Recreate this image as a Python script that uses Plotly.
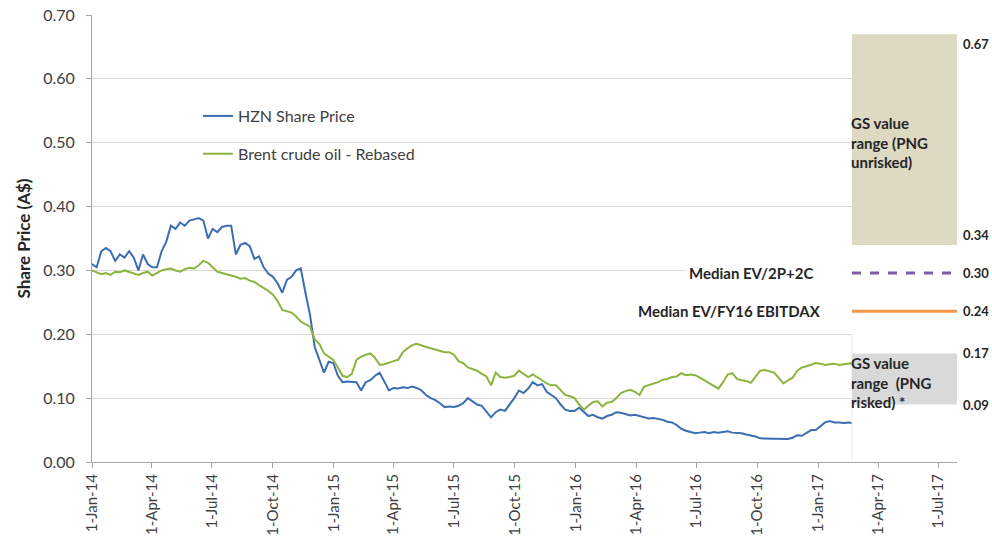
import pandas as pd
import plotly.graph_objects as go

# ---------------- data ----------------
dates = pd.date_range("2014-01-01", periods=165, freq="7D")

hzn_price = [
    0.310, 0.305, 0.330, 0.335, 0.330, 0.315, 0.325, 0.320, 0.330, 0.320,
    0.300, 0.325, 0.310, 0.305, 0.305, 0.330, 0.345, 0.370, 0.365, 0.375,
    0.370, 0.378, 0.380, 0.382, 0.378, 0.350, 0.365, 0.360, 0.368, 0.370,
    0.370, 0.325, 0.340, 0.343, 0.338, 0.318, 0.322, 0.305, 0.295, 0.290,
    0.280, 0.265, 0.285, 0.290, 0.300, 0.303, 0.265, 0.230, 0.180, 0.160,
    0.140, 0.157, 0.155, 0.135, 0.125, 0.126, 0.125, 0.125, 0.112, 0.125,
    0.128, 0.135, 0.140, 0.125, 0.112, 0.116, 0.115, 0.117, 0.116, 0.118,
    0.116, 0.112, 0.105, 0.100, 0.097, 0.092, 0.086, 0.087, 0.086, 0.088,
    0.092, 0.100, 0.095, 0.090, 0.088, 0.078, 0.070, 0.078, 0.082, 0.080,
    0.090, 0.100, 0.112, 0.108, 0.115, 0.125, 0.120, 0.122, 0.110, 0.105,
    0.100, 0.090, 0.082, 0.080, 0.080, 0.085, 0.078, 0.072, 0.074, 0.070,
    0.068, 0.072, 0.074, 0.078, 0.077, 0.075, 0.073, 0.074, 0.072, 0.069,
    0.068, 0.069, 0.068, 0.066, 0.063, 0.062, 0.058, 0.052, 0.049, 0.047,
    0.045, 0.046, 0.047, 0.045, 0.047, 0.046, 0.047, 0.048, 0.046, 0.046,
    0.045, 0.043, 0.042, 0.040, 0.037, 0.037, 0.036, 0.037, 0.036, 0.037,
    0.036, 0.038, 0.042, 0.041, 0.045, 0.050, 0.050, 0.056, 0.062, 0.064,
    0.062, 0.062, 0.061, 0.062, 0.061,
]

brent_rebased = [
    0.300, 0.297, 0.294, 0.296, 0.293, 0.298, 0.297, 0.300, 0.298, 0.296,
    0.293, 0.296, 0.298, 0.292, 0.296, 0.300, 0.302, 0.303, 0.300, 0.298,
    0.302, 0.304, 0.303, 0.308, 0.315, 0.312, 0.305, 0.298, 0.296, 0.294,
    0.293, 0.290, 0.287, 0.288, 0.284, 0.282, 0.277, 0.273, 0.268, 0.262,
    0.252, 0.238, 0.236, 0.234, 0.228, 0.220, 0.216, 0.212, 0.192, 0.185,
    0.170, 0.165, 0.160, 0.148, 0.135, 0.133, 0.138, 0.160, 0.165, 0.168,
    0.170, 0.163, 0.152, 0.153, 0.156, 0.158, 0.160, 0.172, 0.178, 0.183,
    0.185, 0.182, 0.180, 0.178, 0.176, 0.174, 0.172, 0.172, 0.168, 0.158,
    0.155, 0.148, 0.145, 0.143, 0.138, 0.134, 0.120, 0.140, 0.133, 0.132,
    0.133, 0.135, 0.143, 0.138, 0.133, 0.137, 0.133, 0.128, 0.123, 0.120,
    0.120, 0.112, 0.105, 0.103, 0.100, 0.090, 0.082, 0.088, 0.094, 0.095,
    0.087, 0.093, 0.094, 0.100, 0.108, 0.111, 0.113, 0.110, 0.105, 0.118,
    0.120, 0.122, 0.125, 0.129, 0.130, 0.133, 0.134, 0.139, 0.136, 0.137,
    0.136, 0.132, 0.128, 0.124, 0.120, 0.115, 0.125, 0.137, 0.139, 0.130,
    0.128, 0.127, 0.124, 0.133, 0.143, 0.144, 0.142, 0.140, 0.132, 0.123,
    0.128, 0.132, 0.143, 0.148, 0.150, 0.152, 0.155, 0.154, 0.152, 0.153,
    0.154, 0.152, 0.153, 0.155, 0.155,
]

unrisked_range = [0.34, 0.67]   # GS value range (PNG unrisked)
risked_range = [0.09, 0.17]     # GS value range (PNG risked)
median_ev_2p2c = 0.296
median_ev_ebitdax = 0.236

tick_dates = pd.date_range("2014-01-01", "2017-07-01", freq="QS")
tick_text = [f"{d.day}-{d.strftime('%b-%y')}" for d in tick_dates]

# ---------------- styling ----------------
FONT = "Lato, 'Open Sans', Arial, sans-serif"
TXT = "#404040"
DARK = "#262626"
AXIS = "#a6a6a6"
GRID = "#d9d9d9"
BLUE = "#3b6db3"
GREEN = "#8db33f"
TAN = "#ddd9c3"
GREY = "#d9d9d9"
PURPLE = "#7a5ca8"
ORANGE = "#f79646"

X0 = 0.8786  # paper x where the series end / valuation panel begins

fig = go.Figure()
fig.add_trace(go.Scatter(x=dates, y=hzn_price, mode="lines", name="HZN Share Price",
                         line=dict(color=BLUE, width=2), legendgroup="a"))
fig.add_trace(go.Scatter(x=dates, y=brent_rebased, mode="lines", name="Brent crude oil - Rebased",
                         line=dict(color=GREEN, width=2), legendgroup="b"))

shapes = [
    # white panel hiding gridlines on the right
    dict(type="rect", xref="paper", yref="y", x0=X0, x1=1.0, y0=0.002, y1=0.7,
         fillcolor="white", line=dict(width=0), layer="above"),
    dict(type="line", xref="paper", yref="y", x0=X0, x1=X0, y0=0.002, y1=0.2,
         line=dict(color="#ececec", width=1), layer="above"),
    # white box behind the Median EV/2P+2C label
    dict(type="rect", xref="paper", yref="y", x0=0.686, x1=X0, y0=0.283, y1=0.310,
         fillcolor="white", line=dict(width=0), layer="above"),
    dict(type="rect", xref="paper", yref="y", x0=X0, x1=1.0,
         y0=unrisked_range[0], y1=unrisked_range[1],
         fillcolor=TAN, line=dict(width=0), layer="above"),
    dict(type="rect", xref="paper", yref="y", x0=X0, x1=1.0,
         y0=risked_range[0], y1=risked_range[1],
         fillcolor=GREY, line=dict(width=0), layer="above"),
    dict(type="line", xref="paper", yref="y", x0=X0, x1=1.0,
         y0=median_ev_2p2c, y1=median_ev_2p2c,
         line=dict(color=PURPLE, width=3, dash="dash"), layer="above"),
    dict(type="line", xref="paper", yref="y", x0=X0, x1=1.0,
         y0=median_ev_ebitdax, y1=median_ev_ebitdax,
         line=dict(color=ORANGE, width=3), layer="above"),
]

ann_font = dict(family=FONT, size=15, color=DARK)
annotations = [
    dict(xref="paper", yref="y", x=X0, y=0.50, xanchor="left", yanchor="middle",
         text="<b>GS value<br>range (PNG<br>unrisked)</b>", showarrow=False, align="left",
         font=ann_font, xshift=-3),
    dict(xref="paper", yref="y", x=X0, y=0.124, xanchor="left", yanchor="middle",
         text="<b>GS value<br>range  (PNG<br>risked) *</b>", showarrow=False, align="left",
         font=ann_font, xshift=-3),
    dict(xref="paper", yref="y", x=0.8358, y=median_ev_2p2c, xanchor="right", yanchor="middle",
         text="<b>Median EV/2P+2C</b>", showarrow=False, font=ann_font),
    dict(xref="paper", yref="y", x=0.845, y=median_ev_ebitdax, xanchor="right", yanchor="middle",
         text="<b>Median EV/FY16 EBITDAX</b>", showarrow=False, font=ann_font),
]
right_labels = [
    (unrisked_range[1], "top"), (unrisked_range[0], "bottom"),
    (median_ev_2p2c, "middle"), (median_ev_ebitdax, "middle"),
    (risked_range[1], "middle"), (risked_range[0], "middle"),
]
for val, anchor in right_labels:
    annotations.append(dict(xref="paper", yref="y", x=1.0, y=val, xanchor="left",
                            yanchor=anchor, xshift=4, text=f"<b>{val:.2f}</b>",
                            showarrow=False, font=dict(family=FONT, size=13, color=DARK)))

fig.update_layout(
    width=992, height=543,
    margin=dict(l=92, r=35, t=15, b=81),
    paper_bgcolor="white", plot_bgcolor="white",
    font=dict(family=FONT, color=TXT),
    showlegend=True,
    legend=dict(x=0.1225, y=0.812, xanchor="left", yanchor="top",
                bgcolor="rgba(0,0,0,0)", font=dict(family=FONT, size=16, color=TXT),
                tracegroupgap=14),
    shapes=shapes,
    annotations=annotations,
    xaxis=dict(
        type="date", automargin=False,
        range=["2014-01-01", "2017-07-29"],
        tickvals=list(tick_dates), ticktext=tick_text, tickangle=-90,
        showgrid=False, zeroline=False,
        showline=True, linecolor=AXIS, linewidth=1,
        ticks="outside", ticklen=5, tickcolor=AXIS,
        tickfont=dict(family=FONT, size=15, color=TXT),
    ),
    yaxis=dict(
        automargin=False,
        range=[0, 0.7], dtick=0.1, tickformat=".2f",
        showgrid=True, gridcolor=GRID, gridwidth=1, zeroline=False,
        showline=True, linecolor=AXIS, linewidth=1,
        ticks="outside", ticklen=5, tickcolor=AXIS, ticklabelstandoff=8,
        tickfont=dict(family=FONT, size=16, color=TXT),
        title=dict(text="<b>Share Price (A$)</b>", font=dict(family=FONT, size=17, color=DARK),
                   standoff=8),
    ),
)

fig.write_html(
    "out.html",
    config={"displayModeBar": False},
    post_script="document.body.style.margin='0px';document.body.style.overflow='hidden';",
)
